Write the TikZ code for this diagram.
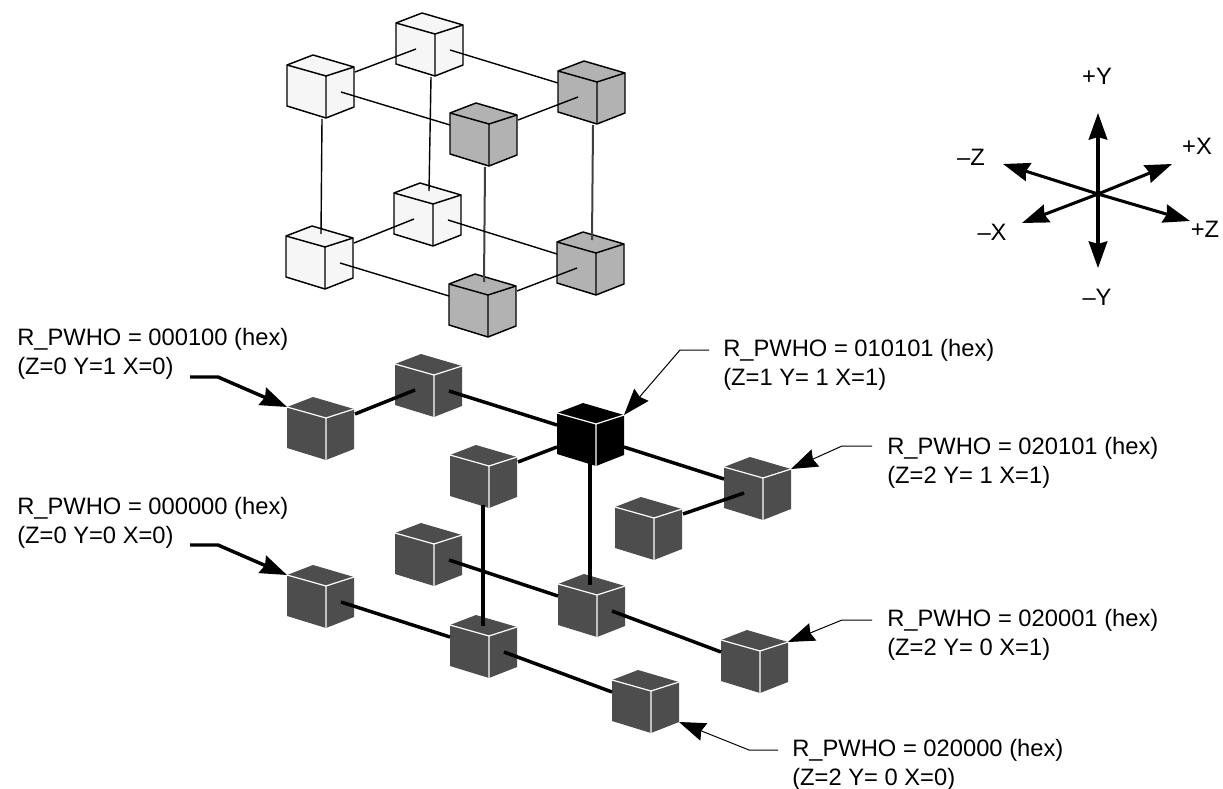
\documentclass[tikz,border=0pt]{standalone}
\usepackage{fontspec}
\setmainfont{Liberation Sans}
\usetikzlibrary{arrows.meta}
\definecolor{cubelight}{HTML}{F6F6F6}
\definecolor{cubemid}{HTML}{B2B2B2}
\definecolor{cubedark}{HTML}{4D4D4D}
\tikzset{
  lightface/.style={fill=cubelight,draw=black,line width=1.1pt,line join=round},
  midface/.style={fill=cubemid,draw=black,line width=1.1pt,line join=round},
  darkface/.style={fill=cubedark,draw=white,line width=0.9pt,line join=round},
  blackface/.style={fill=black,draw=white,line width=0.9pt,line join=round},
  thin link/.style={draw=black,line width=1.05pt},
  grey link/.style={draw=black!75,line width=1.5pt},
  thick link/.style={draw=black,line width=2.6pt},
  big tip/.style={-{Stealth[length=20pt,width=14pt,inset=2pt]}},
  thick lead/.style={thick link,big tip,line join=round},
  thin lead/.style={draw=black,line width=0.75pt,big tip,line join=round},
  axis/.style={draw=black,line width=2.3pt,big tip},
  lab/.style={font=\fontsize{17.8}{21.75}\selectfont,align=left,anchor=west,inner sep=0pt},
  axlab/.style={font=\fontsize{17.8}{18}\selectfont,inner sep=0pt}
}
\newcommand{\cubeat}[4]{%
  \coordinate (#1) at (#2,#3);
  \coordinate (#1-tl) at (#2,#3);
  \coordinate (#1-ap) at (#2+26,#3-10);
  \coordinate (#1-fr) at (#2+39,#3+11);
  \coordinate (#1-tr) at (#2+67,#3+2);
  \coordinate (#1-bl) at (#2,#3+41);
  \coordinate (#1-fb) at (#2+39,#3+53);
  \coordinate (#1-br) at (#2+67,#3+42);
  \coordinate (#1-lp) at (#2+20,#3+26);
  \coordinate (#1-rp) at (#2+54,#3+27);
  \coordinate (#1-tp) at (#2+35,#3-2);
  \coordinate (#1-td) at (#2+33,#3+1);
  \coordinate (#1-re) at (#2+68,#3+7);
  \coordinate (#1-le) at (#2,#3+12);
  \coordinate (#1-lo) at (#2,#3+34);
  \coordinate (#1-ro) at (#2+67,#3+34);
  \coordinate (#1-be) at (#2+35,#3+54);
  \coordinate (#1-bd) at (#2+33,#3+50);
  \path[#4,draw=none] (#1-tl)--(#1-ap)--(#1-tr)--(#1-br)--(#1-fb)--(#1-bl)--cycle;
  \draw[#4,fill=none] (#1-tl)--(#1-fr)--(#1-tr) (#1-fr)--(#1-fb);
}
\newcommand{\outlinecube}[4]{\cubeat{#1}{#2}{#3}{#4}\draw[#4,fill=none] (#1-tl)--(#1-ap)--(#1-tr)--(#1-br)--(#1-fb)--(#1-bl)--cycle;}
\begin{document}
\begin{tikzpicture}[x=0.75pt,y=-0.75pt]
\useasboundingbox (0,0) rectangle (1223,788);
% upper lattice
\outlinecube{a}{396}{23}{lightface}
\outlinecube{b}{287}{65}{lightface}
\outlinecube{c}{558}{71}{midface}
\outlinecube{d}{450}{113}{midface}
\outlinecube{e}{394}{193}{lightface}
\outlinecube{f}{286}{236}{lightface}
\outlinecube{g}{557}{242}{midface}
\outlinecube{h}{449}{284}{midface}
\draw[thin link] (b-re)--(a-lp);
\draw[thin link] (a-rp)--(c-le);
\draw[thin link] (b-rp)--(d-le);
\draw[thin link] (d-re)--(c-lp);
\draw[thin link] (b-be)--(f-tp);
\draw[thin link] (a-be)--(e-tp);
\draw[grey link] (d-be)--(h-tp);
\draw[grey link] (c-be)--(g-tp);
\draw[thin link] (f-re)--(e-lp);
\draw[thin link] (e-rp)--(g-le);
\draw[thin link] (f-rp)--(h-le);
\draw[thin link] (h-re)--(g-lp);
% lower lattice
\cubeat{p}{287}{407}{darkface}
\cubeat{q}{395}{364}{darkface}
\cubeat{k}{557}{413}{blackface}
\cubeat{m}{450}{455}{darkface}
\cubeat{r}{724}{467}{darkface}
\cubeat{s}{615}{507}{darkface}
\cubeat{t}{395}{533}{darkface}
\cubeat{u}{287}{575}{darkface}
\cubeat{v}{558}{584}{darkface}
\cubeat{w}{450}{625}{darkface}
\cubeat{y}{721}{640}{darkface}
\cubeat{z}{612}{680}{darkface}
\draw[thick link] (p-re)--(q-lp);
\draw[thick link] (q-rp)--(k-le);
\draw[thick link] (m-re)--(k-lo);
\draw[thick link] (k-ro)--(r-le);
\draw[thick link] (s-re)--(r-lp);
\draw[thick link] (k-bd)--(k-bd|-v-td);
\draw[thick link] (m-bd)--(m-bd|-w-td);
\draw[thick link] (t-rp)--(v-le);
\draw[thick link] (v-rp)--(y-le);
\draw[thick link] (u-rp)--(w-le);
\draw[thick link] (w-rp)--(z-le);
% labels
\node[lab] (l1) at (17,354) {R\_PWHO = 000100 (hex)\\(Z=0 Y=1 X=0)};
\node[lab] (l2) at (17,523) {R\_PWHO = 000000 (hex)\\(Z=0 Y=0 X=0)};
\node[lab] (l3) at (723,364.5) {R\_PWHO = 010101 (hex)\\(Z=1 Y= 1 X=1)};
\node[lab] (l4) at (887,462.5) {R\_PWHO = 020101 (hex)\\(Z=2 Y= 1 X=1)};
\node[lab] (l5) at (887,634.5) {R\_PWHO = 020001 (hex)\\(Z=2 Y= 0 X=1)};
\node[lab] (l6) at (792,764.5) {R\_PWHO = 020000 (hex)\\(Z=2 Y= 0 X=0)};
% leaders
\coordinate (s1) at (190,377); \coordinate (b1) at (218,377);
\coordinate (s2) at (190,545); \coordinate (b2) at (218,545);
\coordinate (s3) at (709,350); \coordinate (b3) at (680,350);
\coordinate (s4) at (872,446); \coordinate (b4) at (842,446);
\coordinate (s5) at (872,620); \coordinate (b5) at (842,620);
\coordinate (s6) at (778,750); \coordinate (b6) at (749,750);
\draw[thick lead] (s1)--(b1)--(p-tl);
\draw[thick lead] (s2)--(b2)--(u-tl);
\draw[thin lead] (s3)--(b3)--(k-tr);
\draw[thin lead] (s4)--(b4)--(r-tr);
\draw[thin lead] (s5)--(b5)--(y-tr);
\draw[thin lead] (s6)--(b6)--(z-br);
% axes
\coordinate (o) at (1098,194);
\coordinate (py) at (1098,113);
\coordinate (ny) at (1098,268);
\coordinate (px) at (1172,164);
\coordinate (nx) at (1022,223);
\coordinate (nz) at (1003,164);
\coordinate (pz) at (1190,221);
\foreach \t in {py,ny,px,nx,nz,pz}{\draw[axis] (o)--(\t);}
\node[axlab] (tpy) at (1097,76) {+Y};
\node[axlab] (tny) at (1097,297) {–Y};
\node[axlab] (tpx) at (1197,146) {+X};
\node[axlab] (tnx) at (992,232) {–X};
\node[axlab] (tnz) at (971,157) {–Z};
\node[axlab] (tpz) at (1205,229) {+Z};
\end{tikzpicture}
\end{document}
